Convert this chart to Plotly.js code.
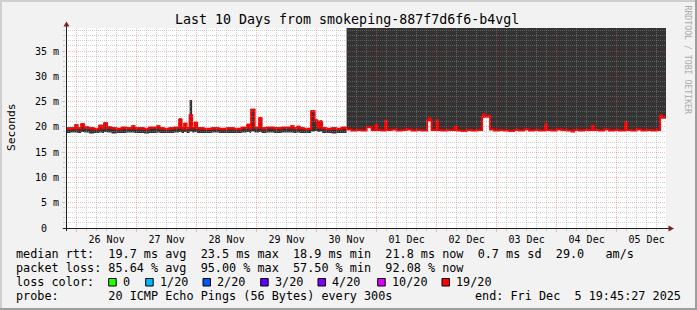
<!DOCTYPE html>
<html><head><meta charset="utf-8">
<script src="https://cdn.plot.ly/plotly-3.0.1.min.js"></script>
<style>html,body{margin:0;padding:0;background:#f2f2f2;overflow:hidden}#chart{width:697px;height:310px}</style>
</head><body><div id="chart"></div>
<script>
// ---------------- data (hours after 2025-11-25 00:00) ----------------
const startHour = 19.7575;   // Tue Nov 25 19:45:27
const endHour = 259.7575;    // Fri Dec 5 19:45:27
const yMax = 39.55;
const dayLabels = ["26 Nov","27 Nov","28 Nov","29 Nov","30 Nov","01 Dec","02 Dec","03 Dec","04 Dec","05 Dec"];
const dayNoonHours = [36,60,84,108,132,156,180,204,228,252];
const yTickVals = [0,5,10,15,20,25,30,35];
const yTickText = ["0\u00A0\u00A0","5 m","10 m","15 m","20 m","25 m","30 m","35 m"];

// first part: smoke band + median (ms)
const leftHours  = [19.76,21.5,23.4,24.4,25.8,27.0,29.0,31.0,33.0,34.2,35.0,36.2,38.0,40.0,42.0,44.0,46.2,47.2,49.0,51.0,53.0,56.2,57.2,59.0,61.0,63.0,65.0,66.0,67.0,68.0,69.2,70.2,71.2,72.2,75.0,78.0,81.0,84.0,87.0,90.0,92.2,93.2,93.8,95.2,97.0,98.0,100.0,103.0,106.0,109.8,110.8,112.2,113.2,115.0,117.8,119.2,120.4,121.2,122.2,124.0,126.0,128.0,130.0];
const leftMedian = [19.6,19.7,20.3,19.7,20.5,19.8,19.7,19.6,20.2,19.7,20.7,19.8,19.7,19.6,19.8,19.7,20.1,19.7,19.7,19.6,19.8,20.1,19.7,19.6,19.7,19.8,21.4,19.7,20.6,19.7,22.3,19.8,20.8,19.7,19.6,19.7,19.6,19.7,19.6,19.8,20.4,19.7,23.4,19.8,21.7,19.7,19.8,19.7,19.8,20.1,19.7,20.0,19.7,19.6,23.1,21.2,19.8,21.0,19.7,19.6,19.7,19.6,19.8];
const smokeLow   = [18.8,18.9,18.9,18.8,19.0,18.9,18.7,18.8,18.9,18.8,19.0,18.9,18.7,18.8,18.8,18.9,18.9,18.8,18.8,18.7,18.8,18.9,18.8,18.8,18.8,18.9,19.0,18.8,19.0,18.8,19.1,18.9,19.0,18.8,18.8,18.9,18.8,18.8,18.8,18.9,19.0,18.8,19.1,18.9,19.0,18.8,18.9,18.8,18.9,18.9,18.8,18.9,18.8,18.8,19.1,19.2,19.0,19.1,18.8,18.8,18.7,18.8,18.8];
const smokeHigh  = [19.9,19.9,20.5,19.9,20.7,20.1,19.9,19.8,20.4,19.9,20.9,20.1,19.9,19.8,20.0,19.9,20.3,19.9,19.9,19.8,20.0,20.3,19.9,19.8,19.9,20.0,21.7,19.9,20.8,19.9,25.3,20.0,21.0,19.9,19.8,19.9,19.8,19.9,19.8,20.0,20.6,19.9,23.6,20.0,21.9,19.9,20.0,19.9,20.0,20.3,19.9,20.2,19.9,19.8,23.3,21.5,20.0,21.3,19.9,19.8,19.9,19.8,20.0];

// second part: median with unknown smoke above (ms)
const rightHours  = [132,134,136,138,140,142,143.6,144.2,146,147.4,148,150,152,154,156,158,160,162,164.2,165,165.6,166,168,168.6,170,172,175.2,176,178,180,182,184,186.2,186.6,187.2,188.6,189.4,191,193,195,197,199,201,203,205,207,209,211.4,212,214,216,218,220,222,223,225,227,230.2,230.8,233,235,237,239,241,243.4,244,246,248,250,252,254,256,257.4,258.2,259.7575];
const rightMedian = [19.5,19.3,19.4,19.3,19.9,19.4,20.4,19.4,19.3,21.2,19.4,19.5,19.3,19.4,19.5,19.3,19.4,19.3,21.3,21.7,21.3,19.4,21.3,19.4,19.3,19.4,20.0,19.3,19.2,19.4,19.3,19.4,22.0,22.5,22.0,22.2,19.5,19.3,19.4,19.3,19.2,19.4,19.3,19.5,19.3,19.4,19.3,20.5,19.4,19.3,19.5,19.4,19.3,19.1,19.4,19.3,19.4,20.2,19.4,19.3,19.5,19.3,19.4,19.3,20.9,19.4,19.3,19.5,19.3,19.4,19.3,19.4,22.3,21.8,21.8];

const lossLabels = ["0","1/20","2/20","3/20","4/20","10/20","19/20"];
const lossColors = ["#26ff00","#00b8ff","#0059ff","#5e00ff","#7e00ff","#dd00ff","#ff0000"];
const statRow1 = "median rtt:  19.7 ms avg  23.5 ms max  18.9 ms min  21.8 ms now  0.7 ms sd  29.0   am/s";
const statRow2 = "packet loss: 85.64 % avg  95.00 % max  57.50 % min  92.08 % now";
const statRow3 = "loss color:";
const statRow4 = "probe:       20 ICMP Echo Pings (56 Bytes) every 300s";
const endText = "end: Fri Dec  5 19:45:27 2025";
const titleText = "Last 10 Days from smokeping-887f7d6f6-b4vgl";

// ---------------- helpers ----------------
const H0 = Date.UTC(2025,10,25,0,0,0);
const toMs = h => H0 + h*3600000;
const ML = 66, MT = 28, PW = 600, PH = 200;
const px = x => (x - ML)/PW;
const py = y => (MT + PH - y)/PH;
const nb = s => s.replace(/ /g,'\u00A0');
const MONO = 'DejaVu Sans Mono';

const smokeX = leftHours.concat([132]).map(toMs);
const lowY = smokeLow.concat([smokeLow[smokeLow.length-1]]);
const highY = smokeHigh.concat([smokeHigh[smokeHigh.length-1]]);
const medX = leftHours.concat(rightHours).map(toMs);
const medY = leftMedian.concat(rightMedian);

const traces = [
  {x: rightHours.map(toMs), y: rightMedian, mode:'lines', line:{width:0, shape:'hv'}, hoverinfo:'skip'},
  {x: [toMs(132), toMs(endHour)], y:[yMax,yMax], mode:'lines', line:{width:0}, fill:'tonexty', fillcolor:'#333333', hoverinfo:'skip'},
  {x: smokeX, y: lowY, mode:'lines', line:{width:0, shape:'hv'}, hoverinfo:'skip'},
  {x: smokeX, y: highY, mode:'lines', line:{width:0, shape:'hv'}, fill:'tonexty', fillcolor:'#333333', hoverinfo:'skip'},
  {x: medX, y: medY, mode:'lines', line:{color:'#ff0000', width:2, shape:'hv'}, hoverinfo:'skip'},
  {x: [], y: [], xaxis:'x2', yaxis:'y2', mode:'lines'}
];

const GRID = 'rgba(150,150,150,0.45)';
const MGRID = 'rgba(235,90,90,0.42)';
const xr = [toMs(startHour), toMs(endHour)];

const shapes = [
  {type:'rect', xref:'paper', yref:'paper', x0:px(0), x1:px(697), y0:py(0), y1:py(2), fillcolor:'#cfcfcf', line:{width:0}, layer:'below'},
  {type:'rect', xref:'paper', yref:'paper', x0:px(0), x1:px(2), y0:py(0), y1:py(310), fillcolor:'#cfcfcf', line:{width:0}, layer:'below'},
  {type:'rect', xref:'paper', yref:'paper', x0:px(0), x1:px(697), y0:py(308), y1:py(310), fillcolor:'#9e9e9e', line:{width:0}, layer:'below'},
  {type:'rect', xref:'paper', yref:'paper', x0:px(695), x1:px(697), y0:py(0), y1:py(310), fillcolor:'#9e9e9e', line:{width:0}, layer:'below'},
  {type:'rect', xref:'paper', yref:'paper', x0:0, x1:1, y0:0, y1:1, fillcolor:'#ffffff', line:{width:0}, layer:'below'},
  {type:'line', xref:'paper', yref:'paper', x0:px(66.5), x1:px(66.5), y0:py(231), y1:py(25), line:{color:'#1f1f1f', width:1}, layer:'above'},
  {type:'line', xref:'paper', yref:'paper', x0:px(63), x1:px(669), y0:py(228.5), y1:py(228.5), line:{color:'#1f1f1f', width:1}, layer:'above'},
  {type:'path', xref:'paper', yref:'paper', path:`M${px(66.5)},${py(21.5)} L${px(63.5)},${py(26.5)} L${px(69.5)},${py(26.5)} Z`, fillcolor:'#801f1f', line:{width:0}, layer:'above'},
  {type:'path', xref:'paper', yref:'paper', path:`M${px(674)},${py(228.5)} L${px(668.5)},${py(225.5)} L${px(668.5)},${py(231.5)} Z`, fillcolor:'#801f1f', line:{width:0}, layer:'above'}
];

const lossBoxX = [108.7,145.7,203,260.7,318,377.7,442];
const annotations = [
  {text:titleText, x:px(347), y:py(19), xanchor:'center', yanchor:'middle', font:{family:MONO, size:13.3, color:'#000'}},
  {text:'Seconds', x:px(11), y:py(127), textangle:-90, xanchor:'center', yanchor:'middle', font:{family:MONO, size:11.3, color:'#000'}},
  {text:'RRDTOOL / TOBI OETIKER', x:px(687.5), y:py(60), textangle:90, xanchor:'center', yanchor:'middle', font:{family:MONO, size:8.2, color:'#aaaaaa'}},
  {text:nb(statRow1), x:px(15), y:py(254), xanchor:'left', yanchor:'middle', font:{family:MONO, size:11.8, color:'#000'}},
  {text:nb(statRow2), x:px(15), y:py(268), xanchor:'left', yanchor:'middle', font:{family:MONO, size:11.8, color:'#000'}},
  {text:nb(statRow3), x:px(15), y:py(282), xanchor:'left', yanchor:'middle', font:{family:MONO, size:11.8, color:'#000'}},
  {text:nb(statRow4), x:px(15), y:py(296), xanchor:'left', yanchor:'middle', font:{family:MONO, size:11.8, color:'#000'}},
  {text:nb(endText), x:px(682), y:py(296), xanchor:'right', yanchor:'middle', font:{family:MONO, size:11.8, color:'#000'}}
];
lossLabels.forEach((lab, i) => {
  const bx = lossBoxX[i];
  shapes.push({type:'rect', xref:'paper', yref:'paper', x0:px(bx), x1:px(bx+7.5), y0:py(278.5), y1:py(286), fillcolor:lossColors[i], line:{color:'#000', width:1}, layer:'above'});
  annotations.push({text:lab, x:px(bx+13), y:py(282), xanchor:'left', yanchor:'middle', font:{family:MONO, size:11.8, color:'#000'}});
});
annotations.forEach(a => { a.xref='paper'; a.yref='paper'; a.showarrow=false; a.borderpad=0; });

const layout = {
  width:697, height:310,
  margin:{l:ML, r:697-ML-PW, t:MT, b:310-MT-PH, pad:0},
  paper_bgcolor:'#f2f2f2', plot_bgcolor:'rgba(0,0,0,0)',
  showlegend:false,
  font:{family:MONO, size:10, color:'#000'},
  xaxis:{type:'date', range:xr, tickmode:'array', tickvals:dayNoonHours.map(toMs), ticktext:dayLabels,
         showgrid:false, zeroline:false, showline:false, ticks:'', tickfont:{family:MONO, size:10, color:'#000'}, ticklabelstandoff:4},
  yaxis:{range:[0,yMax], tickmode:'array', tickvals:yTickVals, ticktext:yTickText,
         showgrid:false, zeroline:false, showline:false, ticks:'', tickfont:{family:MONO, size:10, color:'#000'}, ticklabelstandoff:6},
  xaxis2:{type:'date', anchor:'y2', range:xr, tickmode:'linear', tick0:toMs(24), dtick:86400000,
          showticklabels:false, showgrid:true, gridcolor:MGRID, griddash:'1px,1px', gridwidth:1, zeroline:false,
          ticks:'outside', ticklen:3, tickcolor:MGRID, tickwidth:1,
          minor:{tick0:toMs(0), dtick:14400000, showgrid:true, gridcolor:GRID, griddash:'1px,1px', gridwidth:1, ticks:'outside', ticklen:2, tickcolor:GRID}},
  yaxis2:{anchor:'x2', range:[0,yMax], tickmode:'linear', tick0:0, dtick:5,
          showticklabels:false, showgrid:true, gridcolor:MGRID, griddash:'1px,1px', gridwidth:1, zeroline:false,
          ticks:'outside', ticklen:3, tickcolor:MGRID, tickwidth:1,
          minor:{tick0:0, dtick:1, showgrid:true, gridcolor:GRID, griddash:'1px,1px', gridwidth:1, ticks:'outside', ticklen:2, tickcolor:GRID}},
  shapes: shapes,
  annotations: annotations
};

Plotly.newPlot('chart', traces, layout, {staticPlot:true, displayModeBar:false});
</script>
</body></html>
